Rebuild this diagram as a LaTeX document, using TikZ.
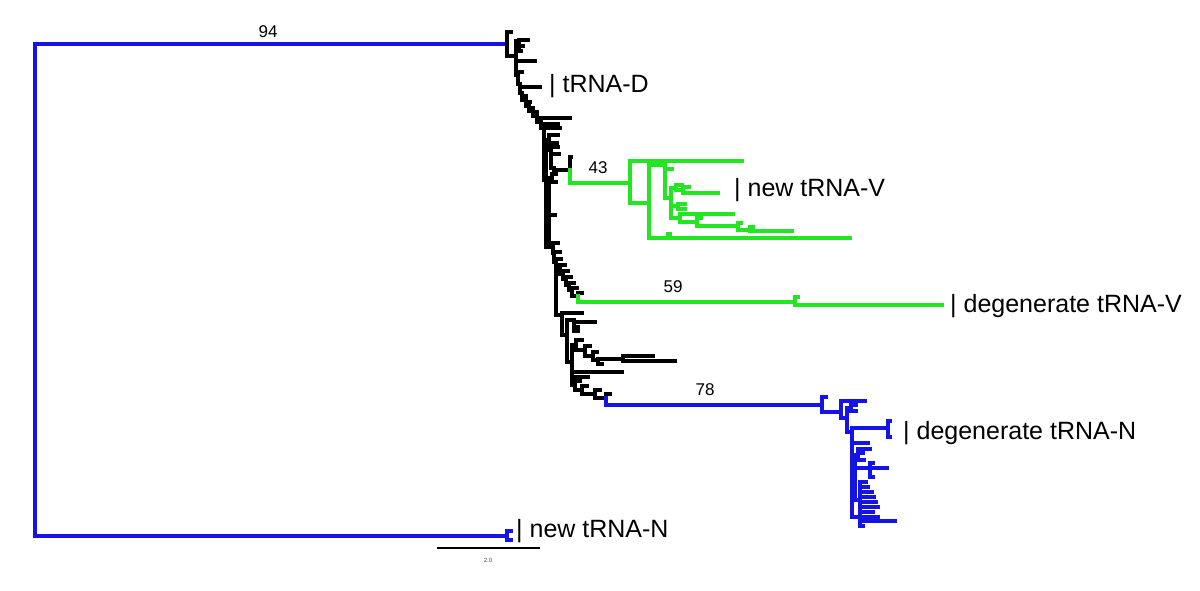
\documentclass[tikz,border=0pt]{standalone}
\usepackage{fontspec}
\setmainfont{Liberation Sans}
\definecolor{tb}{RGB}{20,20,230}
\definecolor{tg}{RGB}{35,230,35}
\tikzset{
  br/.style={line width=3.4pt, line cap=rect, line join=miter},
  lab/.style={font=\fontsize{25}{30}\selectfont, anchor=base west, inner sep=0pt},
  num/.style={font=\fontsize{17}{20}\selectfont, inner sep=0pt}
}
\newcommand\tleaves[3][]{\foreach \xx/\yy in {#3}{\draw[br,#1] (#2) |- (\xx,\yy);}}
\newcommand\tedge[3][]{\draw[br,#1] (#2) |- (#3);}
\begin{document}
\begin{tikzpicture}[x=1pt,y=-1pt]
\useasboundingbox (0,0) rectangle (1200,590);
% ---- coordinates (internal nodes) ----
\coordinate (R) at (35,290);
\coordinate (A) at (507,44);
\coordinate (NN) at (507,536);
\coordinate (B) at (516,56);
\coordinate (Bt) at (519,41);
\coordinate (C1) at (518,75);
\coordinate (C2) at (520,84);
\coordinate (C3) at (522,93);
\coordinate (C4) at (526,100);
\coordinate (C5) at (529,106);
\coordinate (C6) at (533,111);
\coordinate (C7) at (537,116);
\coordinate (C8) at (541,122);
\coordinate (C9) at (544,128);
\coordinate (D1) at (546,180);
\coordinate (D2) at (549,140);
\coordinate (D3) at (551,150);
\coordinate (D4) at (554,168);
\coordinate (Gn) at (570,170);
\coordinate (E1) at (549,247);
\coordinate (E0) at (552,178);
\coordinate (E2) at (553,247);
\coordinate (F1) at (554,253);
\coordinate (F2) at (556,262);
\coordinate (F3) at (560,268);
\coordinate (F4) at (563,274);
\coordinate (F5) at (566,279);
\coordinate (F6) at (569,285);
\coordinate (F7) at (572,290);
\coordinate (F8) at (578,296);
\coordinate (M1) at (795,302);
\coordinate (H1) at (562,315);
\coordinate (H2) at (567,335);
\coordinate (H3) at (574,320);
\coordinate (H4) at (572,362);
\coordinate (J1) at (576,345);
\coordinate (J2) at (585,350);
\coordinate (J3) at (593,356);
\coordinate (J4) at (598,360);
\coordinate (J5) at (623,359);
\coordinate (K1) at (575,385);
\coordinate (K2) at (582,390);
\coordinate (K3) at (595,394);
\coordinate (K4) at (606,398);
\coordinate (N0) at (822,405);
\coordinate (N1) at (841,412);
\coordinate (N2) at (847,418);
\coordinate (N2a) at (851,408);
\coordinate (N3) at (852,432);
\coordinate (T1) at (888,428);
\coordinate (N4) at (855,470);
\coordinate (N5) at (858,455);
\coordinate (N6) at (860,500);
\coordinate (N7) at (870,468);
\coordinate (G0) at (630,183);
\coordinate (G1) at (649,203);
\coordinate (G2) at (665,165);
\coordinate (G3) at (671,198);
\coordinate (G4) at (676,188);
\coordinate (G4a) at (683,190);
\coordinate (G5) at (678,206);
\coordinate (G6) at (680,218);
\coordinate (G7) at (697,222);
\coordinate (G8) at (738,226);
\coordinate (G9) at (750,230);
\coordinate (T2) at (668,238);
% ---- root ----
\tedge[tb]{R}{A}
\tedge[tb]{R}{NN}
\tleaves[tb]{NN}{511/531,511/540}
% ---- black top ----
\tleaves{A}{511/32}
\tedge{A}{B}
\tedge{B}{Bt}
\tleaves{Bt}{528/40,523/46,521/51}
\tleaves{B}{535/61}
\tedge{B}{C1}
\tleaves{C1}{522/72}
\tedge{C1}{C2}
\tleaves{C2}{540/87}
\tedge{C2}{C3}
\tleaves{C3}{526/96}
\tedge{C3}{C4}
\tleaves{C4}{530/102}
\tedge{C4}{C5}
\tleaves{C5}{533/108}
\tedge{C5}{C6}
\tleaves{C6}{537/112}
\tedge{C6}{C7}
\tleaves{C7}{570/118}
\tedge{C7}{C8}
\tleaves{C8}{558/124}
\tedge{C8}{C9}
\tleaves{C9}{560/128}
\tedge{C9}{D1}
\tedge{D1}{D2}
\tleaves{D2}{558/135,557/143}
\tedge{D2}{D3}
\tleaves{D3}{558/147,559/154}
\tedge{D3}{D4}
\tedge{D4}{Gn}
\tleaves{Gn}{571/157}
\tedge{D1}{E1}
\tedge{E1}{E0}
\tleaves{E0}{556/174,556/182}
\tleaves{E1}{555/215}
\tedge{E1}{E2}
\tleaves{E2}{558/243}
\tedge{E2}{F1}
\tleaves{F1}{560/252}
\tedge{F1}{F2}
\tleaves{F2}{561/259}
\tedge{F2}{F3}
\tleaves{F3}{565/265}
\tedge{F3}{F4}
\tleaves{F4}{568/271}
\tedge{F4}{F5}
\tleaves{F5}{571/277}
\tedge{F5}{F6}
\tleaves{F6}{574/283}
\tedge{F6}{F7}
\tleaves{F7}{577/288}
\tedge{F7}{F8}
\tleaves{F8}{582/293}
\tedge{F2}{H1}
\tleaves{H1}{582/313}
\tedge{H1}{H2}
\tedge{H2}{H3}
\tleaves{H3}{595/322,578/327,578/331}
\tedge{H2}{H4}
\tleaves{H4}{622/372,588/377}
\tedge{H4}{J1}
\tleaves{J1}{582/340}
\tedge{J1}{J2}
\tleaves{J2}{590/346}
\tedge{J2}{J3}
\tleaves{J3}{597/352}
\tedge{J3}{J4}
\tleaves{J4}{602/364}
\tedge{J4}{J5}
\tleaves{J5}{653/356,675/361}
\tedge{H4}{K1}
\tleaves{K1}{580/381}
\tedge{K1}{K2}
\tleaves{K2}{587/386}
\tedge{K2}{K3}
\tleaves{K3}{600/390}
\tedge{K3}{K4}
\tleaves{K4}{610/394}
% ---- green: degenerate tRNA-V ----
\tedge[tg]{F8}{M1}
\tleaves[tg]{M1}{798/297,942/305}
% ---- green: new tRNA-V ----
\tedge[tg]{Gn}{G0}
\tleaves[tg]{G0}{742/161}
\tedge[tg]{G0}{G1}
\tleaves[tg]{G1}{850/238}
\tleaves[tg]{T2}{670/234}
\tedge[tg]{G1}{G2}
\tleaves[tg]{G2}{672/169}
\tedge[tg]{G2}{G3}
\tedge[tg]{G3}{G4}
\tleaves[tg]{G4}{682/185}
\tedge[tg]{G4}{G4a}
\tleaves[tg]{G4a}{689/187,718/193}
\tedge[tg]{G3}{G5}
\tleaves[tg]{G5}{685/204,685/209}
\tedge[tg]{G3}{G6}
\tleaves[tg]{G6}{733/214}
\tedge[tg]{G6}{G7}
\tleaves[tg]{G7}{701/218}
\tedge[tg]{G7}{G8}
\tleaves[tg]{G8}{741/223}
\tedge[tg]{G8}{G9}
\tleaves[tg]{G9}{753/227,792/231}
% ---- blue: degenerate tRNA-N ----
\tedge[tb]{K4}{N0}
\tleaves[tb]{N0}{826/397}
\tedge[tb]{N0}{N1}
\tleaves[tb]{N1}{865/401}
\tedge[tb]{N1}{N2}
\tedge[tb]{N2}{N2a}
\tleaves[tb]{N2a}{856/405,856/411}
\tedge[tb]{N2}{N3}
\tleaves[tb]{N3}{888/428,868/443,878/517}
\tleaves[tb]{T1}{890/421,890/437}
\tedge[tb]{N3}{N4}
\tedge[tb]{N4}{N5}
\tleaves[tb]{N5}{870/449,863/453,864/460}
\tedge[tb]{N4}{N7}
\tleaves[tb]{N7}{887/468,873/463,873/477}
\tedge[tb]{N4}{N6}
\tleaves[tb]{N6}{866/482,868/487,872/492,874/497,876/502,878/507,873/512,895/521,863/526}
% ---- labels ----
\node[lab] (lD) at (549,92) {| tRNA-D};
\node[lab] (lV) at (734,196) {| new tRNA-V};
\node[lab] (ldV) at (950,312) {| degenerate tRNA-V};
\node[lab] (ldN) at (903,439) {| degenerate tRNA-N};
\node[lab] (lN) at (516,537) {| new tRNA-N};
\node[num] (b94) at (268,32) {94};
\node[num] (b43) at (598,168) {43};
\node[num] (b59) at (673,287) {59};
\node[num] (b78) at (705,390) {78};
% ---- scale bar ----
\coordinate (s1) at (437,548);
\coordinate (s2) at (540,548);
\draw[line width=1.5pt] (s1) -- (s2);
\node[font=\fontsize{6}{7}\selectfont, text=black!70, inner sep=0pt] (sl) at (488,560) {2.0};
\end{tikzpicture}
\end{document}
